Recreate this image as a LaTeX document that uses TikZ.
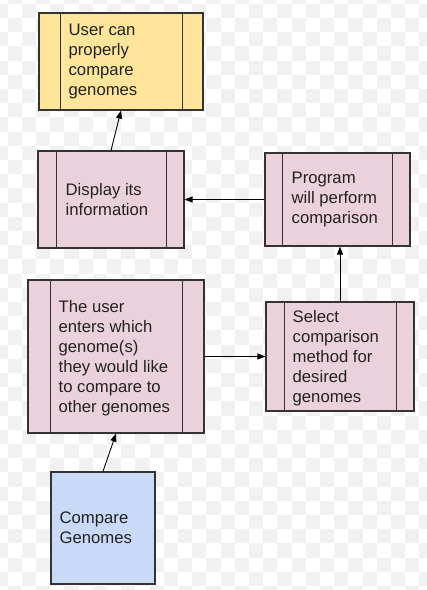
\documentclass[tikz,border=0pt]{standalone}
\usepackage{fontspec}
\setmainfont{Liberation Sans}
\usetikzlibrary{arrows.meta}
\definecolor{yel}{HTML}{FFE599}
\definecolor{pnk}{HTML}{EAD1DC}
\definecolor{blu}{HTML}{C9DAF8}
\definecolor{brd}{HTML}{333333}
\definecolor{txt}{HTML}{222222}
\definecolor{chk}{HTML}{F1F1F1}
\tikzset{
  box/.style={draw=brd, line width=1.1pt, rectangle, inner sep=0pt},
  predef/.style={box, path picture={
    \draw[brd, line width=1.0pt] ([xshift=#1]path picture bounding box.north west) -- ([xshift=#1]path picture bounding box.south west);
    \draw[brd, line width=1.0pt] ([xshift=-#1]path picture bounding box.north east) -- ([xshift=-#1]path picture bounding box.south east);}},
  lbl/.style={anchor=west, align=left, inner sep=0pt, text=txt, font=\fontsize{16.7}{20}\selectfont},
  arr/.style={draw=black, line width=0.9pt, -{Triangle[length=8pt,width=6pt]}},
}
\begin{document}
\begin{tikzpicture}[x=1pt,y=-1pt]
\useasboundingbox (0,0) rectangle (427,590);
% checkerboard background
\begin{scope}
\clip (0,0) rectangle (427,590);
\foreach \i in {-1,...,30}{
  \foreach \j in {-2,...,42}{
    \pgfmathtruncatemacro\s{mod(\i+\j+100,2)}
    \ifnum\s=0
      \fill[chk] (7.6+14.2*\i, 18+14.2*\j) rectangle ++(14.2,14.2);
    \fi
  }
}
\end{scope}
% boxes
\node[predef=21pt, fill=yel, minimum width=164pt, minimum height=97pt] (b1) at (121,61.5) {};
\node[predef=18pt, fill=pnk, minimum width=146pt, minimum height=97pt] (b2) at (111,199.5) {};
\node[predef=17.5pt, fill=pnk, minimum width=145pt, minimum height=93pt] (b3) at (337.5,199.5) {};
\node[predef=22pt, fill=pnk, minimum width=176pt, minimum height=153pt] (b4) at (116,356.5) {};
\node[predef=18pt, fill=pnk, minimum width=148pt, minimum height=109pt] (b5) at (340,356.5) {};
\node[box, fill=blu, minimum width=104pt, minimum height=112pt] (b6) at (103,528) {};
% texts
\node[lbl] (t1) at ([xshift=30pt]b1.west) {User can\\properly\\compare\\genomes};
\node[lbl] (t2) at ([xshift=28pt]b2.west) {Display its\\information};
\node[lbl] (t3) at ([xshift=27pt]b3.west) {Program\\will perform\\comparison};
\node[lbl] (t4) at ([xshift=31pt,yshift=-2pt]b4.west) {The user\\enters which\\genome(s)\\they would like\\to compare to\\other genomes};
\node[lbl] (t5) at ([xshift=27pt,yshift=-2pt]b5.west) {Select\\comparison\\method for\\desired\\genomes};
\node[lbl] (t6) at ([xshift=9pt]b6.west) {Compare\\Genomes};
% connectors
\draw[arr] (b6.north) -- (b4.south);
\draw[arr] (b4.east) -- (b5.west);
\draw[arr] (b5.north) -- (b5.north |- b3.south);
\draw[arr] (b3.west) -- (b2.east);
\draw[arr] (b2.north) -- (b1.south);
\end{tikzpicture}
\end{document}
